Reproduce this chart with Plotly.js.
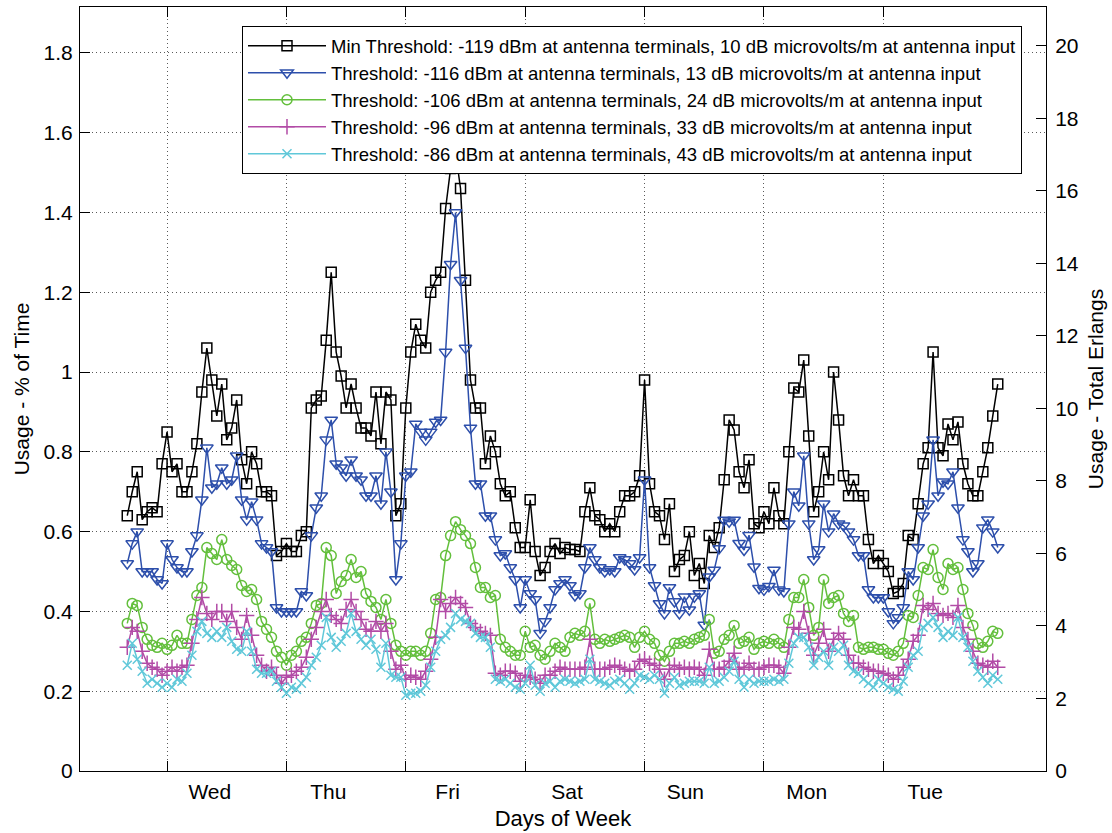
<!DOCTYPE html>
<html>
<head>
<meta charset="utf-8">
<script src="https://cdn.plot.ly/plotly-3.0.1.min.js"></script>
<style>html,body{margin:0;padding:0;background:#fff;}#chart{width:1112px;height:833px;}</style>
</head>
<body>
<div id="chart"></div>
<script>
// Hourly samples; first sample is 8 hours before the "Wed" day boundary (hour 0)
const startHour = -8;

const minThreshold = [
0.64,0.70,0.75,0.63,0.65,0.66,0.65,0.77, 0.85,0.75,0.77,0.70,0.70,0.75,0.82,0.95, 1.06,0.98,0.89,0.97,0.83,0.86,0.93,0.78,
0.72,0.80,0.77,0.70,0.70,0.69,0.54,0.55, 0.57,0.55,0.55,0.59,0.60,0.91,0.93,0.94, 1.08,1.25,1.05,0.99,0.91,0.97,0.91,0.86,
0.86,0.84,0.95,0.82,0.95,0.93,0.64,0.67, 0.91,1.05,1.12,1.08,1.06,1.20,1.23,1.25, 1.41,1.51,1.55,1.46,1.23,0.98,0.91,0.91,
0.77,0.84,0.80,0.72,0.69,0.70,0.61,0.56, 0.56,0.68,0.55,0.49,0.51,0.55,0.57,0.545, 0.56,0.555,0.555,0.55,0.65,0.71,0.64,0.63,
0.60,0.62,0.60,0.65,0.69,0.69,0.70,0.74, 0.98,0.72,0.65,0.64,0.58,0.67,0.50,0.53, 0.54,0.60,0.49,0.52,0.47,0.59,0.56,0.61,
0.73,0.88,0.855,0.75,0.71,0.78,0.62,0.61, 0.65,0.62,0.71,0.64,0.62,0.80,0.96,0.95, 1.03,0.84,0.65,0.70,0.80,0.73,1.00,0.88,
0.74,0.69,0.73,0.69,0.69,0.58,0.52,0.54, 0.52,0.50,0.445,0.45,0.47,0.59,0.58,0.67, 0.77,0.81,1.05,0.81,0.79,0.87,0.83,0.875,
0.77,0.72,0.69,0.69,0.75,0.81,0.89,0.97
];

const threshold116 = [
0.52,0.57,0.60,0.50,0.50,0.50,0.48,0.47, 0.57,0.53,0.51,0.50,0.50,0.55,0.59,0.68, 0.81,0.71,0.72,0.76,0.72,0.73,0.79,0.68,
0.63,0.675,0.63,0.57,0.56,0.55,0.41,0.40, 0.40,0.40,0.40,0.45,0.44,0.59,0.66,0.69, 0.83,0.88,0.77,0.76,0.74,0.78,0.74,0.73,
0.69,0.69,0.74,0.67,0.80,0.70,0.48,0.57, 0.74,0.75,0.87,0.85,0.83,0.85,0.875,0.88, 1.05,1.27,1.40,1.23,1.06,0.86,0.72,0.72,
0.64,0.64,0.58,0.54,0.545,0.51,0.48,0.41, 0.48,0.445,0.43,0.345,0.375,0.41,0.455,0.47, 0.48,0.465,0.44,0.445,0.51,0.56,0.53,0.51,
0.50,0.505,0.50,0.535,0.53,0.52,0.505,0.535, 0.73,0.51,0.465,0.42,0.395,0.46,0.425,0.395, 0.437,0.404,0.437,0.445,0.366,0.487,0.504,0.558,
0.629,0.625,0.629,0.571,0.554,0.591,0.512,0.458, 0.454,0.463,0.504,0.454,0.45,0.62,0.70,0.665, 0.79,0.62,0.53,0.555,0.67,0.60,0.645,0.62,
0.615,0.60,0.58,0.54,0.54,0.455,0.435,0.435, 0.435,0.40,0.37,0.385,0.41,0.50,0.48,0.56, 0.64,0.67,0.83,0.69,0.725,0.72,0.75,0.66,
0.58,0.55,0.50,0.52,0.61,0.63,0.60,0.56
];

const threshold106 = [
0.37,0.42,0.415,0.36,0.33,0.315,0.31,0.32, 0.305,0.315,0.34,0.32,0.32,0.38,0.44,0.46, 0.56,0.545,0.53,0.58,0.53,0.515,0.505,0.465,
0.45,0.455,0.43,0.375,0.355,0.335,0.30,0.285, 0.265,0.29,0.30,0.325,0.335,0.37,0.415,0.42, 0.56,0.54,0.445,0.475,0.49,0.53,0.485,0.50,
0.445,0.425,0.41,0.38,0.43,0.37,0.315,0.30, 0.29,0.30,0.30,0.29,0.30,0.345,0.43,0.435, 0.54,0.59,0.625,0.605,0.59,0.57,0.51,0.46,
0.46,0.435,0.44,0.33,0.31,0.30,0.29,0.29, 0.35,0.31,0.315,0.29,0.28,0.30,0.32,0.31, 0.30,0.335,0.345,0.34,0.35,0.42,0.33,0.32,
0.33,0.325,0.33,0.335,0.34,0.335,0.31,0.335, 0.35,0.33,0.32,0.29,0.275,0.30,0.32,0.32, 0.325,0.32,0.33,0.335,0.34,0.38,0.295,0.30,
0.33,0.34,0.365,0.32,0.325,0.335,0.305,0.32, 0.325,0.32,0.33,0.32,0.31,0.38,0.435,0.435, 0.48,0.41,0.34,0.36,0.48,0.42,0.435,0.44,
0.395,0.375,0.39,0.31,0.305,0.31,0.31,0.305, 0.305,0.295,0.29,0.30,0.32,0.39,0.385,0.44, 0.51,0.505,0.555,0.485,0.455,0.52,0.505,0.51,
0.455,0.395,0.365,0.32,0.31,0.325,0.35,0.345
];

const threshold96 = [
0.31,0.36,0.35,0.30,0.27,0.26,0.255,0.24, 0.25,0.26,0.25,0.26,0.265,0.32,0.38,0.435, 0.395,0.38,0.40,0.40,0.375,0.40,0.36,0.33,
0.39,0.34,0.29,0.265,0.25,0.26,0.24,0.22, 0.235,0.24,0.25,0.26,0.285,0.33,0.36,0.40, 0.43,0.39,0.38,0.37,0.405,0.43,0.40,0.38,
0.355,0.35,0.375,0.35,0.37,0.30,0.255,0.265, 0.23,0.24,0.235,0.23,0.25,0.28,0.335,0.43, 0.40,0.42,0.435,0.42,0.41,0.37,0.36,0.35,
0.345,0.34,0.245,0.24,0.25,0.25,0.245,0.225, 0.24,0.235,0.23,0.22,0.24,0.24,0.25,0.26, 0.255,0.255,0.255,0.255,0.26,0.33,0.255,0.255,
0.255,0.26,0.265,0.26,0.255,0.25,0.255,0.275, 0.28,0.27,0.265,0.255,0.23,0.255,0.265,0.255, 0.26,0.255,0.26,0.255,0.24,0.305,0.255,0.255,
0.26,0.275,0.295,0.255,0.26,0.27,0.255,0.255, 0.26,0.265,0.265,0.26,0.245,0.31,0.36,0.355, 0.40,0.345,0.29,0.32,0.355,0.30,0.33,0.345,
0.33,0.29,0.27,0.27,0.26,0.255,0.25,0.25, 0.245,0.24,0.23,0.24,0.26,0.28,0.325,0.34, 0.415,0.405,0.42,0.395,0.39,0.395,0.385,0.415,
0.36,0.33,0.30,0.27,0.265,0.26,0.275,0.26
];

const threshold86 = [
0.265,0.32,0.28,0.25,0.22,0.23,0.22,0.21, 0.22,0.21,0.23,0.225,0.245,0.29,0.35,0.375, 0.345,0.335,0.35,0.335,0.36,0.325,0.305,0.30,
0.35,0.30,0.255,0.245,0.245,0.25,0.225,0.21, 0.195,0.21,0.205,0.22,0.235,0.265,0.285,0.315, 0.385,0.335,0.31,0.325,0.345,0.395,0.35,0.33,
0.315,0.33,0.305,0.26,0.32,0.24,0.235,0.235, 0.19,0.195,0.195,0.20,0.215,0.26,0.30,0.33, 0.34,0.36,0.395,0.38,0.375,0.37,0.345,0.335,
0.335,0.31,0.23,0.225,0.23,0.22,0.21,0.205, 0.22,0.265,0.215,0.20,0.22,0.225,0.21,0.225, 0.23,0.225,0.22,0.225,0.23,0.28,0.23,0.225,
0.22,0.215,0.225,0.23,0.22,0.205,0.22,0.24, 0.235,0.23,0.24,0.23,0.195,0.22,0.235,0.215, 0.22,0.225,0.225,0.225,0.22,0.26,0.22,0.225,
0.235,0.25,0.275,0.23,0.21,0.23,0.22,0.225, 0.225,0.225,0.23,0.225,0.23,0.27,0.32,0.335, 0.335,0.31,0.265,0.285,0.30,0.265,0.31,0.30,
0.315,0.265,0.25,0.245,0.23,0.22,0.21,0.23, 0.22,0.21,0.205,0.20,0.225,0.26,0.29,0.30, 0.36,0.37,0.385,0.36,0.335,0.35,0.34,0.385,
0.335,0.31,0.275,0.25,0.235,0.22,0.24,0.23
];

const seriesNames = [
  "Min Threshold: -119 dBm at antenna terminals, 10 dB microvolts/m at antenna input",
  "Threshold: -116 dBm at antenna terminals, 13 dB microvolts/m at antenna input",
  "Threshold: -106 dBm at antenna terminals, 24 dB microvolts/m at antenna input",
  "Threshold: -96 dBm at antenna terminals, 33 dB microvolts/m at antenna input",
  "Threshold: -86 dBm at antenna terminals, 43 dB microvolts/m at antenna input"
];
const dayBoundaries = [0, 24, 48, 72, 96, 120, 144];
const dayLabelPos = [8.6, 32.4, 56.4, 80.4, 104.2, 128.6, 152.4];
const dayLabels = ["Wed", "Thu", "Fri", "Sat", "Sun", "Mon", "Tue"];
const leftTicks = [0, 0.2, 0.4, 0.6, 0.8, 1, 1.2, 1.4, 1.6, 1.8];
const rightTicks = [0, 2, 4, 6, 8, 10, 12, 14, 16, 18, 20];

const hours = minThreshold.map((_, i) => startHour + i);

const styles = [
  {color: "#000000", symbol: "square-open", size: 10},
  {color: "#2d4fab", symbol: "triangle-down-open", size: 11},
  {color: "#63bf3c", symbol: "circle-open", size: 10},
  {color: "#b24ba6", symbol: "cross-thin-open", size: 11},
  {color: "#60c8d9", symbol: "x-thin-open", size: 9}
];
const allSeries = [minThreshold, threshold116, threshold106, threshold96, threshold86];

const traces = allSeries.map((ys, k) => ({
  x: hours, y: ys, name: seriesNames[k], type: "scatter", mode: "lines+markers",
  line: {color: styles[k].color, width: 1.5},
  marker: {symbol: styles[k].symbol, size: styles[k].size, color: styles[k].color,
           line: {color: styles[k].color, width: 1.5}},
  xaxis: "x", yaxis: "y", hoverinfo: "x+y"
}));
// empty trace that binds the right-hand Erlang axis and the day-label axis
traces.push({x: [], y: [], xaxis: "x2", yaxis: "y2", showlegend: false, hoverinfo: "skip", type: "scatter", mode: "markers"});

const xr = [-17.5, 176.7];
const fam = "Liberation Sans, Arial, sans-serif";
const gridStyle = {showgrid: true, gridcolor: "#5a5a5a", griddash: "1px,3px", gridwidth: 1};

const layout = {
  width: 1112, height: 833,
  margin: {l: 80, r: 66, t: 7, b: 62},
  paper_bgcolor: "#fff", plot_bgcolor: "#fff",
  font: {family: fam, size: 21, color: "#000"},
  showlegend: true,
  xaxis: Object.assign({
    range: xr, tickvals: dayBoundaries, showticklabels: false,
    ticks: "inside", ticklen: 10, tickcolor: "#000", tickwidth: 1,
    showline: true, linecolor: "#000", linewidth: 1, mirror: "ticks", zeroline: false
  }, gridStyle),
  xaxis2: {
    range: xr, overlaying: "x", side: "bottom", anchor: "y",
    tickvals: dayLabelPos, ticktext: dayLabels, ticks: "", showgrid: false,
    showline: false, zeroline: false, tickfont: {size: 21}, ticklabelstandoff: 6,
    title: {text: "Days of Week", font: {size: 22}, standoff: 8}
  },
  yaxis: Object.assign({
    range: [0, 1.915], tickvals: leftTicks, ticks: "inside", ticklen: 10, tickcolor: "#000",
    showline: true, linecolor: "#000", linewidth: 1, mirror: true, zeroline: false,
    tickfont: {size: 21}, ticklabelstandoff: 2,
    title: {text: "Usage - % of Time", font: {size: 21}, standoff: 8}
  }, gridStyle),
  yaxis2: {
    range: [0, 21.07], tickvals: rightTicks, overlaying: "y", side: "right", anchor: "x",
    ticks: "inside", ticklen: 10, tickcolor: "#000", showgrid: false,
    showline: true, linecolor: "#000", zeroline: false, tickfont: {size: 21}, ticklabelstandoff: 4,
    title: {text: "Usage - Total Erlangs", font: {size: 21}, standoff: 10}
  },
  legend: {
    x: 0.1677, y: 0.975, xanchor: "left", yanchor: "top",
    bgcolor: "#fff", bordercolor: "#000", borderwidth: 1,
    font: {size: 18.5, family: fam, color: "#000"},
    itemwidth: 78, tracegroupgap: 0
  }
};

Plotly.newPlot("chart", traces, layout, {displayModeBar: false, staticPlot: true});
</script>
</body>
</html>
